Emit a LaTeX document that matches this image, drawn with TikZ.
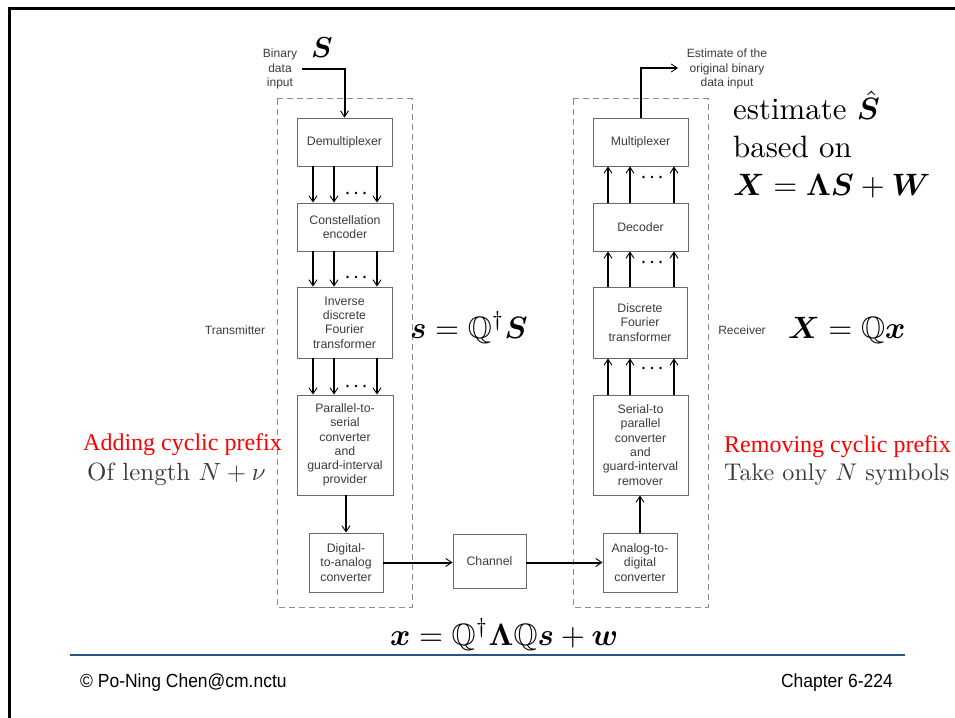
\documentclass[tikz,border=0pt]{standalone}
\usepackage{fontspec}
\usepackage{amsmath,amssymb,bm}
\usepackage{graphicx}
\usetikzlibrary{arrows.meta}
\newfontfamily\sansf{Liberation Sans}
\newfontfamily\footf[FakeStretch=0.92]{Liberation Sans}
\newfontfamily\timesf{Liberation Serif}
\definecolor{boxgray}{HTML}{6A6A6A}
\definecolor{txtgray}{HTML}{3C3C3C}
\definecolor{dashgray}{HTML}{8C8C8C}
\definecolor{ruleblue}{HTML}{2A5384}
\newcommand\tdots[2]{\foreach \dd in {-8.5,0,8.5} {\fill (#1+\dd,#2) circle (1.4bp);}}
\newcommand\mscale[2]{\scalebox{#1}{#2}}
\tikzset{
  blk/.style={draw=boxgray, line width=0.9bp, inner sep=0pt, align=center,
    font=\sansf\fontsize{12.3bp}{14.3bp}\selectfont, text=txtgray},
  arr/.style={line width=2bp, -{Straight Barb[length=6bp,width=8bp,line width=0.9bp]}},
  dashbox/.style={draw=dashgray, line width=1bp, dash pattern=on 6bp off 4bp},
  lbl/.style={inner sep=0pt, align=center, font=\sansf\fontsize{12bp}{14.3bp}\selectfont, text=txtgray},
  mth/.style={inner sep=0pt, anchor=base west, text=black},
  redt/.style={inner sep=0pt, anchor=base west, text=red, font=\timesf\fontsize{24bp}{28bp}\selectfont},
  foot/.style={inner sep=0pt, font=\footf\fontsize{19bp}{22bp}\selectfont, text=black}
}
\begin{document}
\begin{tikzpicture}[x=1bp,y=-1bp]
\useasboundingbox (0,0) rectangle (955,718);
\fill[white] (0,0) rectangle (955,718);
% frame
\draw[line width=3bp] (9,718) -- (9,9) -- (955,9);

% dashed groups
\draw[dashbox] (277,99) rectangle (412,607);
\draw[dashbox] (573,99) rectangle (708,607);

% transmitter blocks
\node[blk, minimum width=95bp, minimum height=48bp] (demux) at (344.5,142) {Demultiplexer};
\node[blk, minimum width=96bp, minimum height=48bp] (enc) at (345,227) {Constellation\\encoder};
\node[blk, minimum width=95bp, minimum height=71bp] (idft) at (344.5,322.5) {Inverse\\discrete\\Fourier\\transformer};
\node[blk, minimum width=96bp, minimum height=100bp] (ps) at (345,445) {Parallel-to-\\serial\\converter\\and\\guard-interval\\provider};
\node[blk, minimum width=74bp, minimum height=59bp] (dac) at (346,562.5) {Digital-\\to-analog\\converter};
\node[blk, minimum width=73bp, minimum height=54bp] (chan) at (489.5,561) {Channel};
\node[blk, minimum width=74bp, minimum height=59bp] (adc) at (640,562.5) {Analog-to-\\digital\\converter};
% receiver blocks
\node[blk, minimum width=95bp, minimum height=100bp] (sp) at (640.5,445) {Serial-to\\parallel\\converter\\and\\guard-interval\\remover};
\node[blk, minimum width=94bp, minimum height=71bp] (dft) at (640,322.5) {Discrete\\Fourier\\transformer};
\node[blk, minimum width=95bp, minimum height=48bp] (dec) at (640.5,227) {Decoder};
\node[blk, minimum width=95bp, minimum height=48bp] (mux) at (640.5,142) {Multiplexer};

% parallel arrows transmitter
\foreach \ax in {313,334,377} {
  \draw[arr] (\ax,0 |- demux.south) -- (\ax,0 |- enc.north);
  \draw[arr] (\ax,0 |- enc.south) -- (\ax,0 |- idft.north);
  \draw[arr] (\ax,0 |- idft.south) -- (\ax,0 |- ps.north);
}
\tdots{356}{193}
\tdots{356}{277}
\tdots{356}{386}
% parallel arrows receiver
\foreach \ax in {608,630,674} {
  \draw[arr] (\ax,0 |- sp.north) -- (\ax,0 |- dft.south);
  \draw[arr] (\ax,0 |- dft.north) -- (\ax,0 |- dec.south);
  \draw[arr] (\ax,0 |- dec.north) -- (\ax,0 |- mux.south);
}
\tdots{652}{177}
\tdots{652}{262}
\tdots{652}{368}

% serial arrows
\draw[arr] (dac.north |- ps.south) -- (dac.north);
\draw[arr] (dac.east) -- (dac.east -| chan.west);
\draw[arr] (chan.east |- dac.east) -- (adc.west);
\draw[arr] (adc.north) -- (adc.north |- sp.south);

% input / output
\coordinate (inp) at (302,69);
\coordinate (outp) at (678,68);
\draw[arr] (inp) -| (demux.north);
\draw[arr] (mux.north) |- (outp);
\node[lbl] (inlbl) at (280,69) {Binary\\data\\input};
\node[inner sep=0pt] (sym) at (322,48) {\mscale{2.9}{$\bm{S}$}};
\node[lbl] (outlbl) at (727,69) {Estimate of the\\original binary\\data input};

\node[lbl] (tx) at (235,330) {Transmitter};
\node[lbl] (rx) at (742,330) {Receiver};

% math
\node[mth] (est) at (733,120) {\mscale{3.1}{estimate $\hat{\bm{S}}$}};
\node[mth] (based) at (733,158) {\mscale{3.1}{based on}};
\node[mth] (model) at (733,195) {\mscale{3.1}{$\bm{X}=\boldsymbol{\Lambda}\bm{S}+\bm{W}$}};
\node[mth] (eqs) at (410,338) {\mscale{3.1}{$\bm{s}=\mathbb{Q}^{\dagger}\bm{S}$}};
\node[mth] (eqX) at (788,338) {\mscale{3.1}{$\bm{X}=\mathbb{Q}\bm{x}$}};
\node[mth] (eqx) at (390,645) {\mscale{3.1}{$\bm{x}=\mathbb{Q}^{\dagger}\boldsymbol{\Lambda}\mathbb{Q}\bm{s}+\bm{w}$}};

\node[redt] (add) at (83,450) {Adding cyclic prefix};
\node[mth, text=txtgray] (oflen) at (87,480) {\mscale{2.5}{Of length $N+\nu$}};
\node[redt] (rem) at (724,452) {Removing cyclic prefix};
\node[mth, text=txtgray] (take) at (724,480) {\mscale{2.42}{Take only $N$ symbols}};

% footer
\draw[ruleblue, line width=1.6bp] (70,655) -- (905,655);
\node[foot, anchor=base west] (fl) at (80,687) {© Po-Ning Chen@cm.nctu};
\node[foot, anchor=base east] (fr) at (893,687) {Chapter 6-224};
\end{tikzpicture}
\end{document}
